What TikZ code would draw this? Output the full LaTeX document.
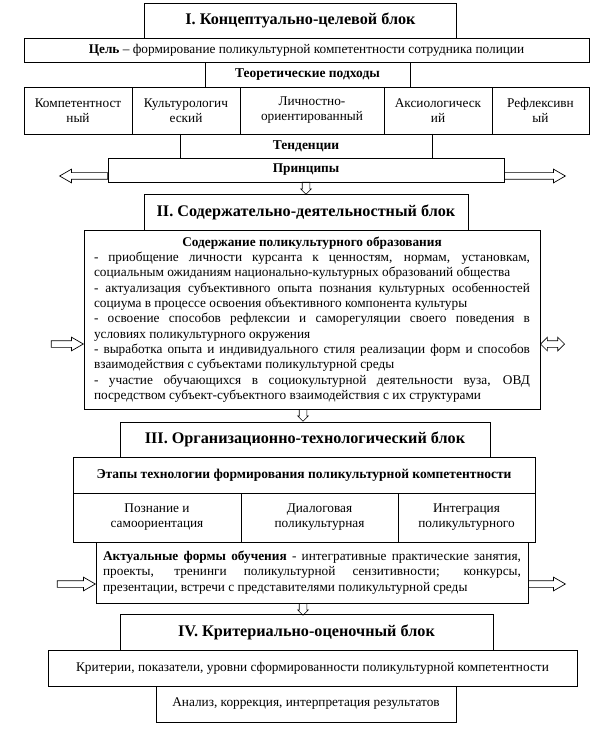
\documentclass[tikz,border=0pt]{standalone}
\usepackage{fontspec}
\setmainfont{Liberation Serif}
\usetikzlibrary{shapes.arrows}
\begin{document}
\begin{tikzpicture}[x=1pt,y=-1pt,
  box/.style={draw, line width=0.8pt, inner sep=0pt, align=center, font=\fontsize{13.3}{15}\selectfont},
  title/.style={box, font=\fontsize{16.2}{19}\selectfont\bfseries},
  hd/.style={box, font=\fontsize{13.5}{15}\selectfont\bfseries},
  para/.style={box, align=justify, inner xsep=10pt, font=\fontsize{13.3}{15.3}\selectfont},
  harrow/.style={single arrow, draw, line width=0.7pt, inner sep=0pt, inner ysep=3pt,
    single arrow head extend=3.5pt, single arrow tip angle=60, single arrow head indent=0pt},
  darrow/.style={double arrow, draw, line width=0.7pt, inner sep=0pt, inner ysep=3pt,
    double arrow head extend=3.5pt, double arrow tip angle=90},
  varrow/.style={single arrow, draw, line width=0.6pt, inner sep=0pt, inner xsep=3.5pt,
    single arrow head extend=1.5pt, single arrow tip angle=90, shape border rotate=270, minimum height=12pt},
  lbl/.style={inner sep=0pt, font=\fontsize{13.5}{15}\selectfont\bfseries}
]
\useasboundingbox (0,0) rectangle (615,735);

% ---- Block I
\node[title, minimum width=312, minimum height=35] (t1) at (300.5,20.5) {I. Концептуально-целевой блок};
\node[box, minimum width=565, minimum height=24] (goal) at (306.5,50) {\textbf{Цель} – формирование поликультурной компетентности сотрудника полиции};
\node[hd, minimum width=205, minimum height=25] (theory) at (307.5,74.5) {Теоретические подходы};
\node[box, minimum width=108, minimum height=47] (a1) at (78,110.5) {Компетентност\\ный};
\node[box, minimum width=108, minimum height=47] (a2) at (186,110.5) {Культурологич\\еский};
\node[box, minimum width=144, minimum height=47] (a3) at (312,110.5) {Личностно-\\ориентированный};
\node[box, minimum width=108, minimum height=47] (a4) at (438,110.5) {Аксиологическ\\ий};
\node[box, minimum width=97, minimum height=47] (a5) at (540.5,110.5) {Рефлексивн\\ый};

% tendencies
\node[box, minimum width=396, minimum height=24] (pr) at (306,170) {\textbf{Принципы}};
\coordinate (tl1) at (180,134);
\coordinate (tl2) at (180,158);
\coordinate (tr1) at (432,134);
\coordinate (tr2) at (432,158);
\draw[line width=0.8pt] (tl1) -- (tl2);
\draw[line width=0.8pt] (tr1) -- (tr2);
\node[lbl] (tend) at (306,146.5) {Тенденции};

\node[harrow, minimum height=48, shape border rotate=180, anchor=tail] (arl1) at (108,176) {};
\node[harrow, minimum height=61, anchor=tail] (arr1) at (504,176) {};
\node[varrow, anchor=tail] (dn1) at (306,182) {};

% ---- Block II
\node[title, minimum width=324, minimum height=36] (t2) at (306,212) {II. Содержательно-деятельностный блок};
\node[para, text width=436, minimum height=179] (content) at (312,319.5) {%
\parindent=0pt\hyphenpenalty=10000\exhyphenpenalty=10000
{\centering\bfseries Содержание поликультурного образования\par}
- приобщение личности курсанта к ценностям, нормам, установкам,\linebreak
социальным ожиданиям национально-культурных образований общества\par
- актуализация субъективного опыта познания культурных особенностей\linebreak
социума в процессе освоения объективного компонента культуры\par
- освоение способов рефлексии и саморегуляции своего поведения в\linebreak
условиях поликультурного окружения\par
- выработка опыта и индивидуального стиля реализации форм и способов\linebreak
взаимодействия с субъектами поликультурной среды\par
- участие обучающихся в социокультурной деятельности вуза, ОВД\linebreak
посредством субъект-субъектного взаимодействия с их структурами\par};
\node[harrow, minimum height=32, anchor=tip] (arl2) at (84,344) {};
\node[darrow, minimum height=24, anchor=west] (arr2) at (540,344) {};
\node[varrow, anchor=tail] (dn2) at (303,409) {};

% ---- Block III
\node[title, minimum width=370, minimum height=35] (t3) at (305,439.5) {III. Организационно-технологический блок};
\node[hd, minimum width=462, minimum height=36] (stages) at (304,475) {Этапы технологии формирования поликультурной компетентности};
\node[box, minimum width=168, minimum height=49] (s1) at (157,517.5) {Познание и\\самоориентация};
\node[box, minimum width=157, minimum height=49] (s2) at (319.5,517.5) {Диалоговая\\поликультурная};
\node[box, minimum width=137, minimum height=49] (s3) at (466.5,517.5) {Интеграция\\поликультурного};
\node[para, text width=418, inner xsep=7pt, minimum height=61] (forms) at (312,572.5) {%
\parindent=0pt\hyphenpenalty=10000\exhyphenpenalty=10000
\textbf{Актуальные формы обучения} - интегративные практические занятия,\linebreak
проекты, тренинги поликультурной сензитивности; конкурсы,\linebreak
презентации, встречи с представителями поликультурной среды\par};
\node[harrow, minimum height=38, anchor=tip] (arl3) at (96,584) {};
\node[harrow, minimum height=37, anchor=tail] (arr3) at (528,584) {};
\node[varrow, anchor=tail] (dn3) at (303,603) {};

% ---- Block IV
\node[title, minimum width=373, minimum height=36] (t4) at (306.5,632) {IV. Критериально-оценочный блок};
\node[box, minimum width=529, minimum height=36] (crit) at (312.5,668) {Критерии, показатели, уровни сформированности поликультурной компетентности};
\node[box, minimum width=300, minimum height=36] (anal) at (306,704) {Анализ, коррекция, интерпретация результатов};
\end{tikzpicture}
\end{document}
